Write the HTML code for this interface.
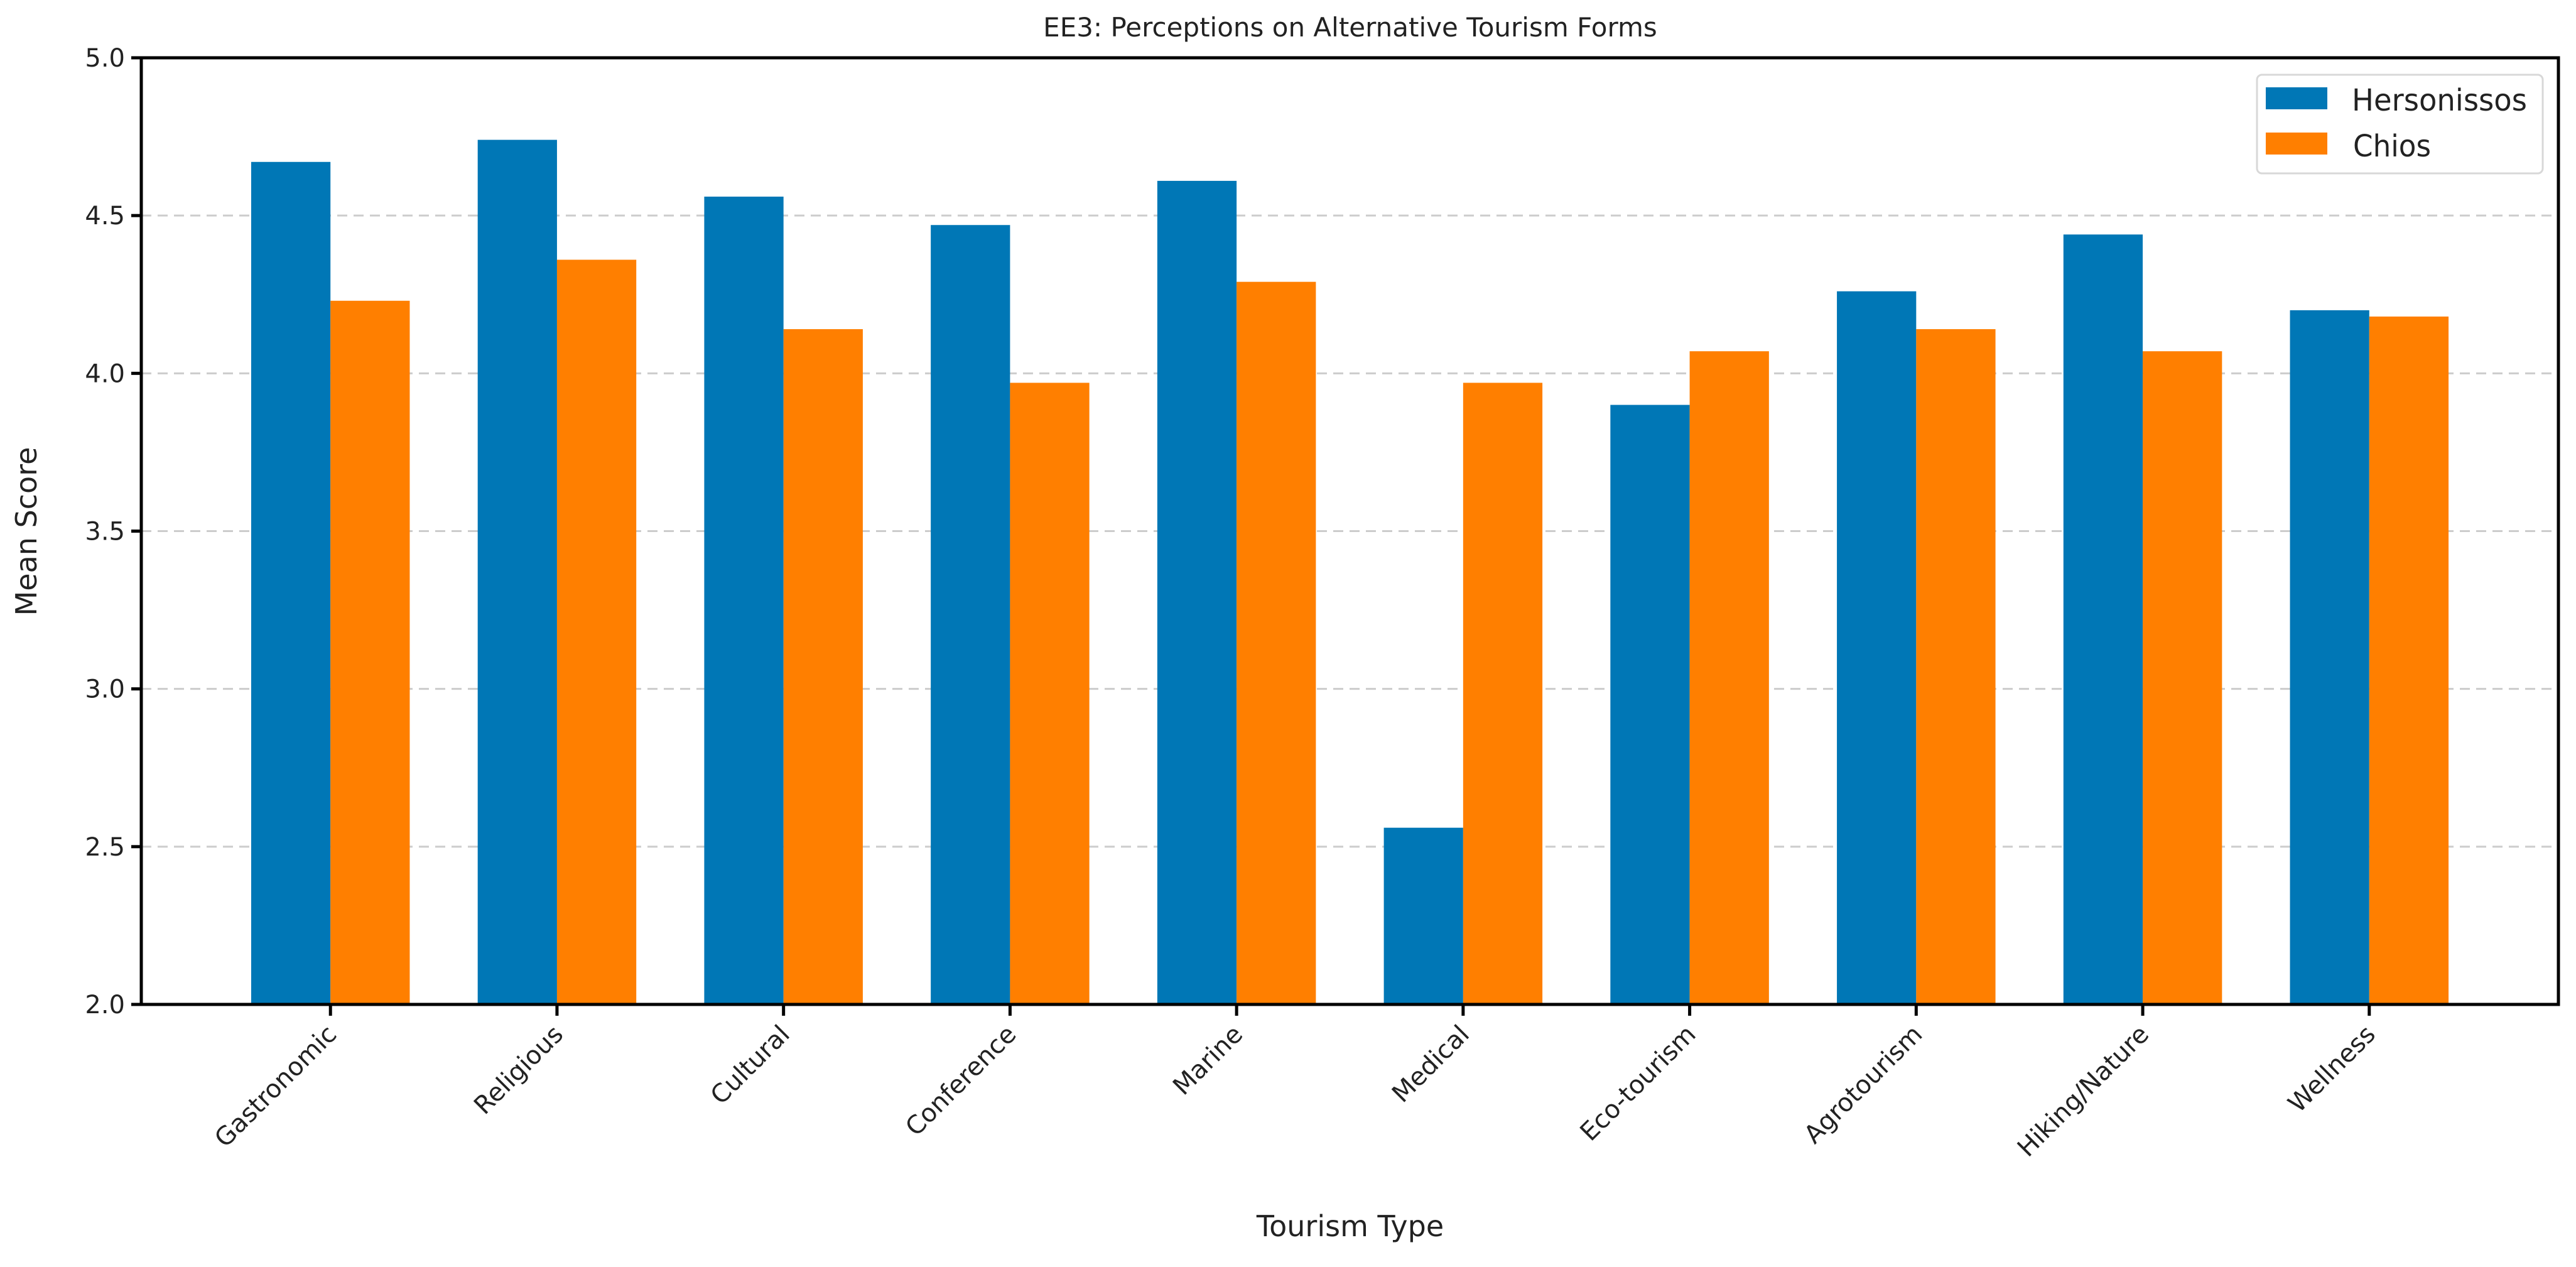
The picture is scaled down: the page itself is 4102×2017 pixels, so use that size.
<!DOCTYPE html>
<html><head><meta charset="utf-8"><style>
html,body{margin:0;padding:0;background:#fff}
svg{display:block;font-family:"DejaVu Sans","Liberation Sans",sans-serif}
</style></head><body>
<svg id="chart" width="4102" height="2017" viewBox="0 0 4102 2017" xmlns="http://www.w3.org/2000/svg">
<rect width="4102" height="2017" fill="#fff"/>
<g id="grid"></g>
<g id="bars"></g>
<g id="axes"></g>
<text x="2150" y="58" text-anchor="middle" font-size="42" fill="#222">EE3: Perceptions on Alternative Tourism Forms</text>
<text x="2150" y="1968" text-anchor="middle" font-size="46" fill="#222">Tourism Type</text>
<text transform="translate(58,846) rotate(-90)" text-anchor="middle" font-size="46" fill="#222">Mean Score</text>
<g>
<rect x="3594" y="119" width="455" height="157" rx="8" fill="#fff" stroke="#d8d8d8" stroke-width="3"/>
<rect x="3608" y="139" width="98" height="35" fill="#0077b6"/>
<text x="3745" y="176" font-size="48" textLength="279" lengthAdjust="spacingAndGlyphs" fill="#222">Hersonissos</text>
<rect x="3608" y="211" width="98" height="35" fill="#ff7f00"/>
<text x="3747" y="249" font-size="48" textLength="124" lengthAdjust="spacingAndGlyphs" fill="#222">Chios</text>
</g>
</svg>
<script>
const categories = ["Gastronomic","Religious","Cultural","Conference","Marine","Medical","Eco-tourism","Agrotourism","Hiking/Nature","Wellness"];
const hersonissos = [4.67,4.74,4.56,4.47,4.61,2.56,3.90,4.26,4.44,4.20];
const chios = [4.23,4.36,4.14,3.97,4.29,3.97,4.07,4.14,4.07,4.18];
const yTicks = [2.0,2.5,3.0,3.5,4.0,4.5,5.0];
const yTickLabels = ["2.0","2.5","3.0","3.5","4.0","4.5","5.0"];

const L=225,R=4074,T=92,B=1599;
const yMin=2,yMax=5;
const xMin=-0.835,xMax=categories.length-1+0.835;
const xs=v=>L+(v-xMin)/(xMax-xMin)*(R-L);
const ys=v=>B-(v-yMin)/(yMax-yMin)*(B-T);
const NS="http://www.w3.org/2000/svg";
function mk(tag,attrs,parent){const e=document.createElementNS(NS,tag);for(const k in attrs)e.setAttribute(k,attrs[k]);parent.appendChild(e);return e;}
const grid=document.getElementById('grid'),bars=document.getElementById('bars'),axes=document.getElementById('axes');
const bw=0.35;
yTicks.forEach((t,i)=>{
  if(t>yMin&&t<yMax){
    const g=mk('line',{x1:L,x2:R,y1:ys(t),y2:ys(t),stroke:'#ccc','stroke-width':3,'stroke-dasharray':'16,10'},grid);
    
    
  }
  const tk=mk('line',{x1:L-16,x2:L,y1:ys(t),y2:ys(t),stroke:'#000','stroke-width':5},axes);
  
  
  const tx=mk('text',{x:L-26,y:ys(t)+14,'text-anchor':'end','font-size':40,fill:'#222'},axes);
  tx.textContent=yTickLabels[i];
  
  
});
categories.forEach((c,i)=>{
  const x0=xs(i-bw),x1=xs(i),x2=xs(i+bw);
  const b1=mk('rect',{x:x0,y:ys(hersonissos[i]),width:x1-x0,height:B-ys(hersonissos[i]),fill:'#0077b6'},bars);
  
  
  const b2=mk('rect',{x:x1,y:ys(chios[i]),width:x2-x1,height:B-ys(chios[i]),fill:'#ff7f00'},bars);
  
  
  const tk=mk('line',{x1:x1,x2:x1,y1:B,y2:B+18,stroke:'#000','stroke-width':5},axes);
  
  
  const tx=mk('text',{transform:`translate(${x1+12},${B+50}) rotate(-45)`,'text-anchor':'end','font-size':40,fill:'#222'},axes);
  tx.textContent=c;
  
  
});
const fr=mk('rect',{x:L,y:T,width:R-L,height:B-T,fill:'none',stroke:'#000','stroke-width':5},axes);


</script>
</body></html>
